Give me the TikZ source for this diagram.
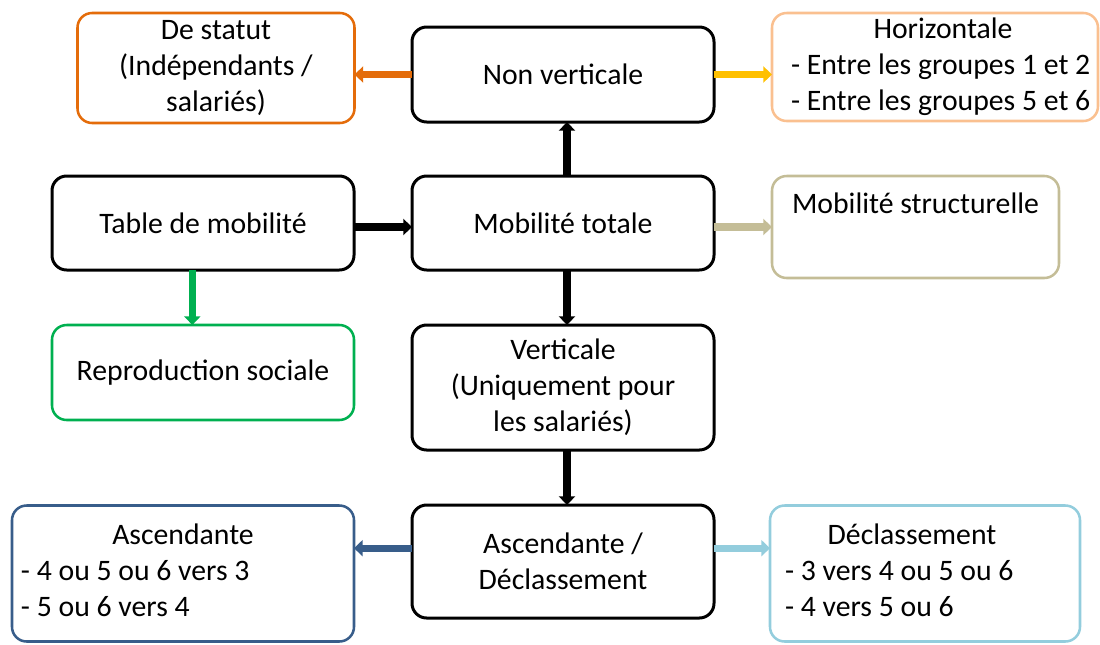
\documentclass[tikz,border=0pt]{standalone}
\usepackage{fontspec}
\setmainfont{Carlito}
\usetikzlibrary{arrows.meta}
\definecolor{statutorange}{HTML}{E46C0A}
\definecolor{horizpeach}{HTML}{FAC090}
\definecolor{horizyellow}{HTML}{FFC000}
\definecolor{structtan}{HTML}{C4BD97}
\definecolor{reprogreen}{HTML}{00B050}
\definecolor{ascblue}{HTML}{385D8A}
\definecolor{declblue}{HTML}{93CDDD}

\begin{document}
\begin{tikzpicture}[x=0.75pt,y=-0.75pt,
    box/.style={draw=#1, line width=1.9pt, rounded corners=11pt, align=center,
        inner sep=0pt, outer sep=0pt, font=\fontsize{22.3}{27}\selectfont},
    mainbox/.style={box=black, line width=2.25pt},
    flow/.style={draw=#1, line width=5.5pt, -{Triangle[length=6.5pt,width=12pt]}}]
    \useasboundingbox (0,0) rectangle (1100,644);
    \node[box=statutorange, minimum width=207.75pt, minimum height=82.5pt] (statut) at (216,68) {De statut\\(Indépendants /\\salariés)};
    \node[mainbox, minimum width=226.5pt, minimum height=71.25pt] (nonvert) at (563,74.5) {Non verticale};
    \node[box=horizpeach, minimum width=244.5pt, minimum height=81pt] (horiz) at (935,67)
        {\begin{tabular}{@{\hspace{12pt}}p{228pt}@{}}\multicolumn{1}{@{\hspace{12pt}}c@{}}{Horizontale}\\- Entre les groupes 1 et 2\\- Entre les groupes 5 et 6\end{tabular}};
    \node[mainbox, minimum width=226.5pt, minimum height=70.5pt] (table) at (203,223) {Table de mobilité};
    \node[mainbox, minimum width=226.5pt, minimum height=70.5pt] (total) at (563,223) {Mobilité totale};
    \node[box=structtan, minimum width=215.25pt, minimum height=76.5pt] (struct) at (915.5,227) {Mobilité structurelle\\ \strut};
    \node[box=reprogreen, minimum width=226.5pt, minimum height=71.25pt] (repro) at (203,372.5) {Reproduction sociale};
    \node[mainbox, minimum width=226.5pt, minimum height=93.75pt] (vert) at (563,387.5) {Verticale\\(Uniquement pour\\les salariés)};
    \node[mainbox, minimum width=226.5pt, minimum height=84.75pt] (ascdecl) at (563,561.5) {Ascendante /\\Déclassement};
    \node[box=ascblue, minimum width=256.5pt, minimum height=102pt] (asc) at (183,573.5)
        {\begin{tabular}{@{}p{243pt}@{}}\multicolumn{1}{@{}c@{}}{Ascendante}\\- 4 ou 5 ou 6 vers 3\\- 5 ou 6 vers 4\end{tabular}};
    \node[box=declblue, minimum width=232.5pt, minimum height=102pt] (decl) at (925,573.5)
        {\begin{tabular}{@{}p{190.5pt}@{\hspace{19.5pt}}}\multicolumn{1}{@{}c@{\hspace{19.5pt}}}{Déclassement}\\- 3 vers 4 ou 5 ou 6\\- 4 vers 5 ou 6\end{tabular}};
    \coordinate (ascmid) at ([yshift=10pt]ascdecl.west);
    \coordinate (declmid) at ([yshift=10pt]ascdecl.east);
    \draw[flow=statutorange] (nonvert.west) -- (statut.east |- nonvert.west);
    \draw[flow=horizyellow] (nonvert.east) -- (horiz.west |- nonvert.east);
    \draw[flow=black] ([xshift=3pt]total.north) -- ([xshift=3pt]nonvert.south);
    \draw[flow=black] ([yshift=-3pt]table.east) -- ([yshift=-3pt]total.west);
    \draw[flow=structtan] ([yshift=-3pt]total.east) -- (struct.west);
    \draw[flow=reprogreen] ([xshift=-8pt]table.south) -- ([xshift=-8pt]repro.north);
    \draw[flow=black] ([xshift=3pt]total.south) -- ([xshift=3pt]vert.north);
    \draw[flow=black] ([xshift=3pt]vert.south) -- ([xshift=3pt]ascdecl.north);
    \draw[flow=ascblue] (ascmid) -- (asc.east |- ascmid);
    \draw[flow=declblue] (declmid) -- (decl.west |- declmid);
\end{tikzpicture}
\end{document}
